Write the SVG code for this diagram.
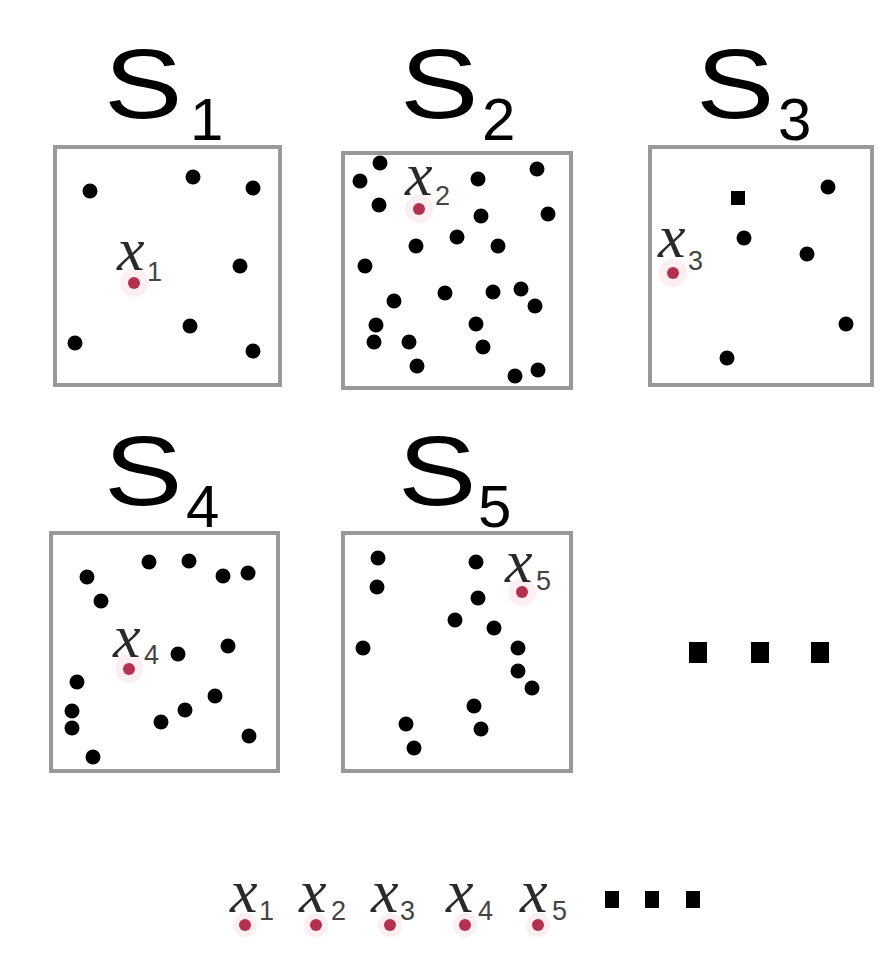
<svg xmlns="http://www.w3.org/2000/svg" width="880" height="968" viewBox="0 0 880 968">
<style>
.box{fill:#fff;stroke:#999;stroke-width:4}
.d{fill:#000}
.r{fill:#b3304e}
.halo{fill:#fdeef2}
.S{font-family:"Liberation Sans",Arial,sans-serif;font-size:98px;fill:#000}
.sub{font-family:"Liberation Sans",Arial,sans-serif;font-size:60px;fill:#000}
.x{font-family:"Liberation Serif","Times New Roman",serif;font-style:italic;font-size:62px;fill:#2a2a2a}
.xs{font-family:"Liberation Sans",Arial,sans-serif;font-size:27px;fill:#444}
.sq{fill:#000}
</style>
<rect width="880" height="968" fill="#fff"/>

<g id="S1">
<text class="S" x="104" y="118" transform="translate(104 0) scale(1.2 1) translate(-104 0)">S</text>
<text class="sub" x="190" y="140">1</text>
<rect class="box" x="55" y="147" width="225" height="238"/>
<circle class="halo" cx="134" cy="283" r="14"/>
<g class="d">
<circle cx="90" cy="191" r="7.5"/><circle cx="193" cy="177" r="7.5"/><circle cx="253" cy="188" r="7.5"/>
<circle cx="240" cy="266" r="7.5"/><circle cx="190" cy="326" r="7.5"/><circle cx="75" cy="343" r="7.5"/><circle cx="253" cy="351" r="7.5"/>
</g>
<circle class="r" cx="134" cy="283" r="6"/>
<text class="x" x="117" y="270">x</text><text class="xs" x="147" y="281">1</text>
</g>

<g id="S2">
<text class="S" x="400" y="118" transform="translate(400 0) scale(1.2 1) translate(-400 0)">S</text>
<text class="sub" x="482" y="140">2</text>
<rect class="box" x="343" y="153" width="228" height="235"/>
<circle class="halo" cx="419" cy="209" r="14"/>
<g class="d">
<circle cx="380" cy="163" r="7.5"/><circle cx="360" cy="181" r="7.5"/><circle cx="379" cy="205" r="7.5"/>
<circle cx="478" cy="179" r="7.5"/><circle cx="537" cy="169" r="7.5"/><circle cx="481" cy="216" r="7.5"/>
<circle cx="548" cy="214" r="7.5"/><circle cx="416" cy="246" r="7.5"/><circle cx="457" cy="237" r="7.5"/>
<circle cx="498" cy="246" r="7.5"/><circle cx="365" cy="266" r="7.5"/><circle cx="445" cy="293" r="7.5"/>
<circle cx="493" cy="292" r="7.5"/><circle cx="521" cy="289" r="7.5"/><circle cx="535" cy="306" r="7.5"/>
<circle cx="394" cy="301" r="7.5"/><circle cx="376" cy="325" r="7.5"/><circle cx="374" cy="342" r="7.5"/>
<circle cx="409" cy="342" r="7.5"/><circle cx="476" cy="324" r="7.5"/><circle cx="483" cy="347" r="7.5"/>
<circle cx="417" cy="366" r="7.5"/><circle cx="515" cy="376" r="7.5"/><circle cx="538" cy="370" r="7.5"/>
</g>
<circle class="r" cx="419" cy="209" r="6"/>
<text class="x" x="405" y="195">x</text><text class="xs" x="435" y="205">2</text>
</g>

<g id="S3">
<text class="S" x="696" y="118" transform="translate(696 0) scale(1.2 1) translate(-696 0)">S</text>
<text class="sub" x="778" y="140">3</text>
<rect class="box" x="650" y="147" width="222" height="238"/>
<circle class="halo" cx="673" cy="273" r="14"/>
<g class="d">
<rect x="731" y="191" width="14" height="14"/><circle cx="828" cy="187" r="7.5"/><circle cx="744" cy="238" r="7.5"/>
<circle cx="807" cy="254" r="7.5"/><circle cx="846" cy="324" r="7.5"/><circle cx="727" cy="358" r="7.5"/>
</g>
<circle class="r" cx="673" cy="273" r="6"/>
<text class="x" x="658" y="257">x</text><text class="xs" x="688" y="270">3</text>
</g>

<g id="S4">
<text class="S" x="104" y="505" transform="translate(104 0) scale(1.2 1) translate(-104 0)">S</text>
<text class="sub" x="186" y="527">4</text>
<rect class="box" x="51" y="533" width="227" height="238"/>
<circle class="halo" cx="129" cy="669" r="14"/>
<g class="d">
<circle cx="87" cy="577" r="7.5"/><circle cx="101" cy="601" r="7.5"/><circle cx="149" cy="562" r="7.5"/>
<circle cx="189" cy="561" r="7.5"/><circle cx="223" cy="576" r="7.5"/><circle cx="248" cy="573" r="7.5"/>
<circle cx="178" cy="654" r="7.5"/><circle cx="228" cy="646" r="7.5"/><circle cx="77" cy="682" r="7.5"/>
<circle cx="72" cy="711" r="7.5"/><circle cx="72" cy="728" r="7.5"/><circle cx="215" cy="696" r="7.5"/>
<circle cx="185" cy="710" r="7.5"/><circle cx="161" cy="722" r="7.5"/><circle cx="249" cy="736" r="7.5"/>
<circle cx="93" cy="757" r="7.5"/>
</g>
<circle class="r" cx="129" cy="669" r="6"/>
<text class="x" x="113" y="657">x</text><text class="xs" x="144" y="664">4</text>
</g>

<g id="S5">
<text class="S" x="398" y="505" transform="translate(398 0) scale(1.2 1) translate(-398 0)">S</text>
<text class="sub" x="478" y="527">5</text>
<rect class="box" x="343" y="533" width="228" height="238"/>
<circle class="halo" cx="522" cy="592" r="14"/>
<g class="d">
<circle cx="378" cy="558" r="7.5"/><circle cx="377" cy="587" r="7.5"/><circle cx="476" cy="562" r="7.5"/>
<circle cx="478" cy="598" r="7.5"/><circle cx="455" cy="620" r="7.5"/><circle cx="494" cy="628" r="7.5"/>
<circle cx="363" cy="648" r="7.5"/><circle cx="518" cy="648" r="7.5"/><circle cx="518" cy="671" r="7.5"/>
<circle cx="532" cy="688" r="7.5"/><circle cx="474" cy="706" r="7.5"/><circle cx="481" cy="729" r="7.5"/>
<circle cx="406" cy="724" r="7.5"/><circle cx="414" cy="748" r="7.5"/>
</g>
<circle class="r" cx="522" cy="592" r="6"/>
<text class="x" x="505" y="582">x</text><text class="xs" x="536" y="590">5</text>
</g>

<g id="ellipsis1" class="sq">
<rect x="689" y="642" width="18" height="21"/>
<rect x="751" y="642" width="18" height="21"/>
<rect x="811" y="642" width="18" height="21"/>
</g>

<g id="sequence">
<g class="halo"><circle cx="245" cy="925" r="12"/><circle cx="316" cy="925" r="12"/><circle cx="390" cy="925" r="12"/><circle cx="465" cy="925" r="12"/><circle cx="538" cy="925" r="12"/></g>
<g class="r"><circle cx="245" cy="925" r="6"/><circle cx="316" cy="925" r="6"/><circle cx="390" cy="925" r="6"/><circle cx="465" cy="925" r="6"/><circle cx="538" cy="925" r="6"/></g>
<text class="x" x="230" y="912">x</text><text class="xs" x="259" y="920">1</text>
<text class="x" x="299" y="912">x</text><text class="xs" x="331" y="920">2</text>
<text class="x" x="371" y="912">x</text><text class="xs" x="400" y="920">3</text>
<text class="x" x="446" y="912">x</text><text class="xs" x="478" y="920">4</text>
<text class="x" x="520" y="912">x</text><text class="xs" x="552" y="920">5</text>
<g class="sq">
<rect x="605" y="891" width="14" height="17"/>
<rect x="645" y="891" width="14" height="17"/>
<rect x="686" y="891" width="14" height="17"/>
</g>
</g>
</svg>
